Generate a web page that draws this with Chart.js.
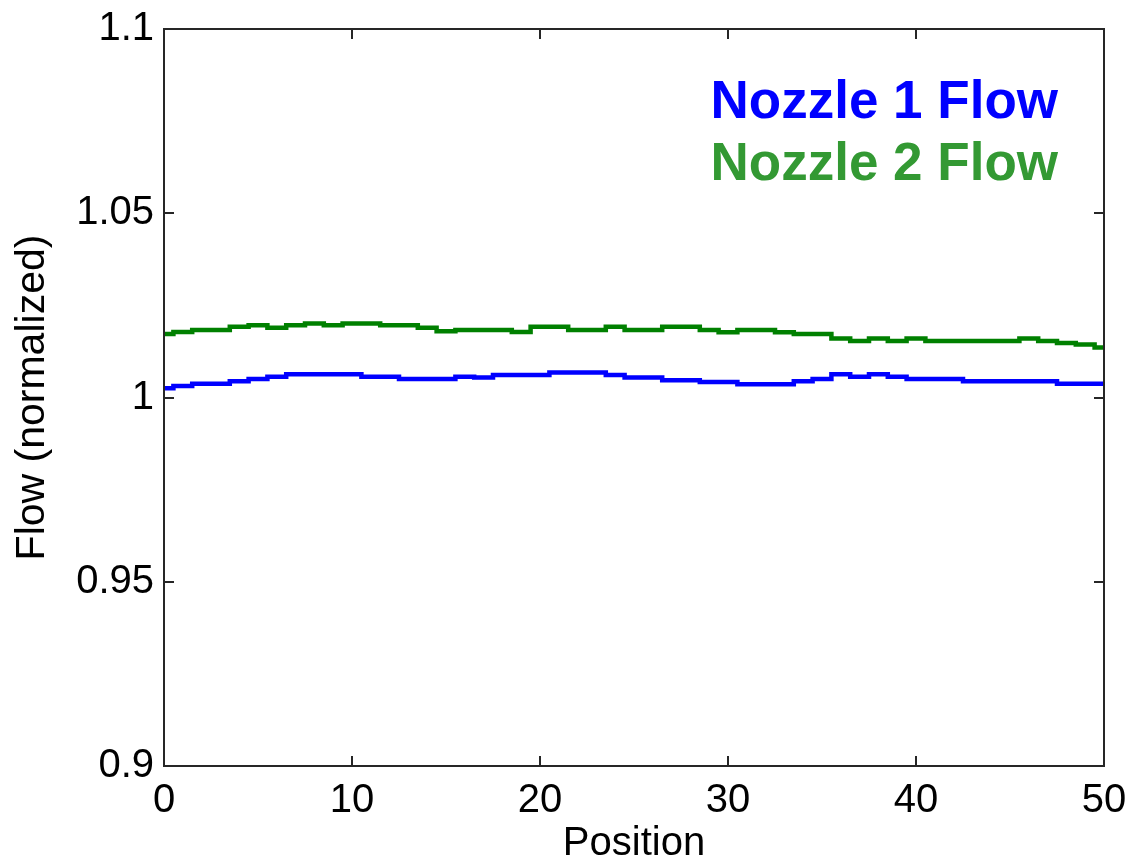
<!DOCTYPE html>
<html>
<head>
<meta charset="utf-8">
<script src="https://cdn.jsdelivr.net/npm/chart.js@4.4.1/dist/chart.umd.min.js"></script>
<style>
  html,body{margin:0;padding:0;background:#fff;}
  #wrap{width:1130px;height:863px;}
</style>
</head>
<body>
<div id="wrap"><canvas id="c" width="1130" height="863"></canvas></div>
<script>
// values, one per position
const positions = [0,1,2,3,4,5,6,7,8,9,10,11,12,13,14,15,16,17,18,19,20,21,22,23,24,25,26,27,28,29,30,31,32,33,34,35,36,37,38,39,40,41,42,43,44,45,46,47,48,49,50];
const nozzle1 = [1.0025,1.0031,1.0037,1.0037,1.0044,1.0050,1.0056,1.0063,1.0063,1.0063,1.0063,1.0056,1.0056,1.0050,1.0050,1.0050,1.0056,1.0054,1.0061,1.0061,1.0061,1.0068,1.0068,1.0068,1.0061,1.0054,1.0054,1.0047,1.0047,1.0042,1.0042,1.0036,1.0036,1.0036,1.0044,1.0050,1.0063,1.0056,1.0063,1.0056,1.0050,1.0050,1.0050,1.0044,1.0044,1.0044,1.0044,1.0044,1.0037,1.0037,1.0037];
const nozzle2 = [1.0172,1.0178,1.0183,1.0183,1.0192,1.0196,1.0189,1.0196,1.0201,1.0196,1.0201,1.0201,1.0196,1.0196,1.0189,1.0180,1.0183,1.0183,1.0183,1.0178,1.0192,1.0192,1.0183,1.0183,1.0192,1.0183,1.0183,1.0192,1.0192,1.0183,1.0177,1.0183,1.0183,1.0177,1.0172,1.0172,1.0160,1.0153,1.0160,1.0153,1.0160,1.0153,1.0153,1.0153,1.0153,1.0153,1.0160,1.0153,1.0148,1.0144,1.0136];
const seriesNames = ['Nozzle 1 Flow','Nozzle 2 Flow'];
const xTicks = [0,10,20,30,40,50];
const yTicks = [0.9,0.95,1,1.05,1.1];

const FONT = 'Arial, "Liberation Sans", sans-serif';

function pts(ys){ return positions.map((p,i)=>({x:p,y:ys[i]})); }

// MATLAB-ish box with inward ticks on all four sides
const boxPlugin = {
  id:'box',
  afterDraw(chart){
    const {ctx, chartArea:a, scales:{x,y}} = chart;
    const len = 10;
    ctx.save();
    ctx.strokeStyle = '#262626';
    ctx.lineWidth = 2;
    ctx.strokeRect(a.left, a.top, a.right-a.left, a.bottom-a.top);
    ctx.beginPath();
    xTicks.forEach(v=>{
      const px = Math.round(x.getPixelForValue(v));
      ctx.moveTo(px, a.bottom); ctx.lineTo(px, a.bottom-len);
      ctx.moveTo(px, a.top); ctx.lineTo(px, a.top+len);
    });
    yTicks.forEach(v=>{
      const py = Math.round(y.getPixelForValue(v));
      ctx.moveTo(a.left, py); ctx.lineTo(a.left+len, py);
      ctx.moveTo(a.right, py); ctx.lineTo(a.right-len, py);
    });
    ctx.stroke();
    ctx.restore();
  }
};

// legend text coloured like its line, top right inside the axes
const legendPlugin = {
  id:'textLegend',
  afterDraw(chart){
    const ctx = chart.ctx;
    const cols = ['#0000ff','#339933'];
    ctx.save();
    ctx.font = 'bold 53px ' + FONT;
    ctx.textAlign = 'right';
    ctx.textBaseline = 'alphabetic';
    chart.data.datasets.forEach((d,i)=>{
      ctx.fillStyle = cols[i];
      ctx.fillText(d.label, 1058, 118 + i*62);
    });
    ctx.restore();
  }
};

new Chart(document.getElementById('c'), {
  type:'line',
  data:{
    datasets:[
      {label:seriesNames[0], data:pts(nozzle1), borderColor:'#0000ff', borderWidth:4.5, pointRadius:0, stepped:'middle'},
      {label:seriesNames[1], data:pts(nozzle2), borderColor:'#008000', borderWidth:4.5, pointRadius:0, stepped:'middle'}
    ]
  },
  options:{
    responsive:false,
    animation:false,
    layout:{padding:{left:0,right:26,top:29,bottom:0}},
    plugins:{legend:{display:false}, tooltip:{enabled:false}},
    scales:{
      x:{
        type:'linear', min:0, max:50,
        afterBuildTicks(s){ s.ticks = xTicks.map(v=>({value:v})); },
        afterFit(s){ s.height = 97; s.paddingLeft = 0; s.paddingRight = 0; },
        grid:{display:false, drawTicks:false},
        border:{display:false},
        ticks:{color:'#000', font:{family:FONT, size:40}, padding:11, maxRotation:0},
        title:{display:true, text:'Position', color:'#000', font:{family:FONT, size:40, lineHeight:1}, padding:{top:0,bottom:-1}}
      },
      y:{
        type:'linear', min:0.9, max:1.1,
        afterBuildTicks(s){ s.ticks = yTicks.map(v=>({value:v})); },
        afterFit(s){ s.width = 164; s.paddingTop = 0; s.paddingBottom = 0; },
        grid:{display:false, drawTicks:false},
        border:{display:false},
        ticks:{color:'#000', font:{family:FONT, size:40}, padding:10,
          callback:v=>String(+(+v).toFixed(2))},
        title:{display:true, text:'Flow (normalized)', color:'#000', font:{family:FONT, size:41, lineHeight:1}, padding:{top:12,bottom:0}}
      }
    }
  },
  plugins:[boxPlugin, legendPlugin]
});
</script>
</body>
</html>
